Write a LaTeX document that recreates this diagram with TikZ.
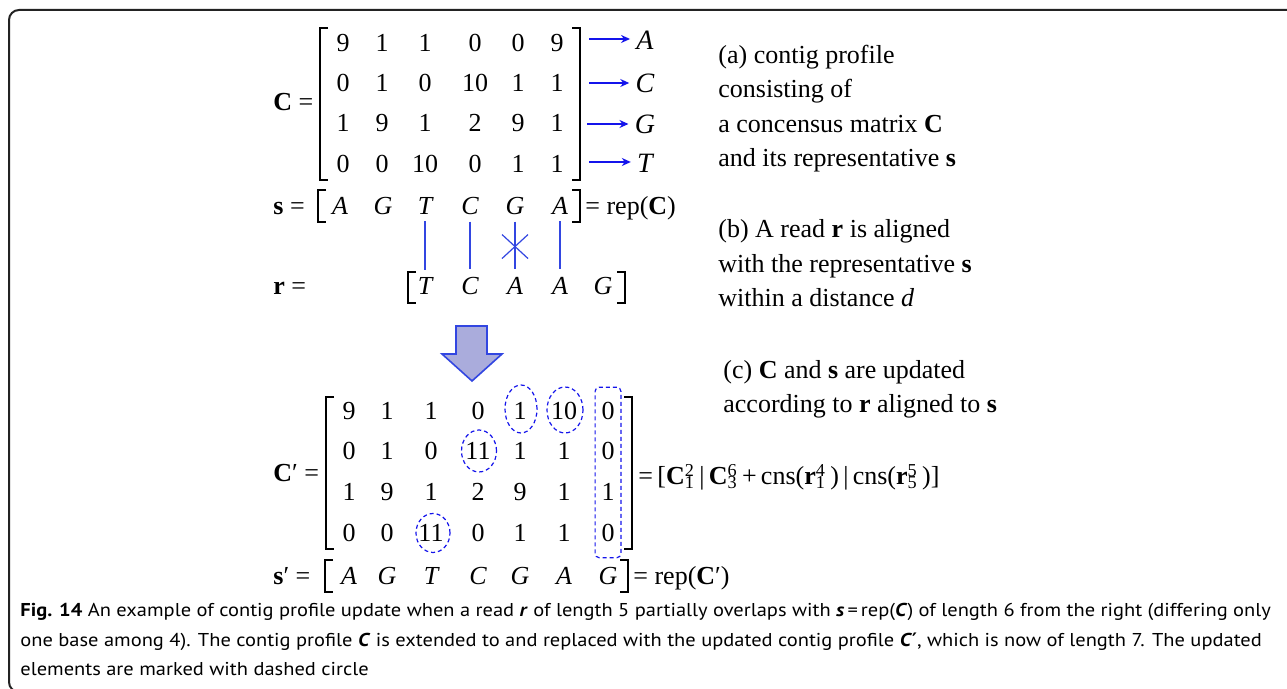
\documentclass[tikz,border=0pt]{standalone}
\usepackage{fontspec}
\setmainfont{Liberation Serif}
\newfontfamily\capfont[FakeStretch=1.1]{PT Sans}
\newfontfamily\primefont{DejaVu Sans}
\usetikzlibrary{arrows.meta,shapes.geometric,fit,calc}

\definecolor{pureblue}{RGB}{20,20,235}
\definecolor{lineblue}{RGB}{50,70,225}
\definecolor{flowfill}{RGB}{170,172,220}
\definecolor{framegray}{RGB}{35,35,35}

% stacked sub- and superscript after a symbol
\newcommand{\subsup}[2]{\makebox[0pt][l]{\textsuperscript{#2}}\textsubscript{#1}}

\begin{document}
\begin{tikzpicture}[
    x=0.5pt, y=-0.5pt,
    font=\fontsize{13}{17.25}\selectfont,
    >={Stealth[length=4.5pt,width=4pt]},
    cell/.style={inner sep=0pt, anchor=base},
    nuc/.style={inner sep=0pt, anchor=base, font=\fontsize{13}{17.25}\selectfont\itshape},
    lhs/.style={inner sep=0pt, anchor=base west},
    note/.style={inner sep=0pt, anchor=base west, align=left},
    brak/.style={line width=0.6pt},
    flow/.style={->, draw=pureblue, line width=0.8pt},
    tie/.style={draw=lineblue, line width=0.6pt, shorten <=3pt, shorten >=4pt},
    ring/.style={draw=pureblue, dash pattern=on 2pt off 1.5pt, line width=0.6pt,
        ellipse, inner sep=0pt},
    newcol/.style={draw=pureblue, dash pattern=on 2pt off 1.5pt, line width=0.6pt,
        rounded corners=2pt, inner xsep=3pt, inner ysep=7.5pt},
    bigflow/.style={draw=lineblue, fill=flowfill, line width=0.8pt, line join=miter}
]
\useasboundingbox (0,0) rectangle (1287,689);

% frame
\draw[framegray, line width=1pt, rounded corners=5pt] (1300,10) -- (9,10) -- (9,692) -- (1300,692);

% (a) consensus matrix C
\node[lhs] (lhsC) at (273,111) {\textbf{C} =};
\draw[brak] (328,28) -- (320,28) -- (320,180) -- (328,180);
\draw[brak] (572,28) -- (580,28) -- (580,180) -- (572,180);
\foreach \xx/\v [count=\c] in {343/9,382/1,425/1,475/0,518/0,557/9}
    \node[cell] (c1\c) at (\xx,52) {\v};
\foreach \xx/\v [count=\c] in {343/0,382/1,425/0,475/10,518/1,557/1}
    \node[cell] (c2\c) at (\xx,92) {\v};
\foreach \xx/\v [count=\c] in {343/1,382/9,425/1,475/2,518/9,557/1}
    \node[cell] (c3\c) at (\xx,132) {\v};
\foreach \xx/\v [count=\c] in {343/0,382/0,425/10,475/0,518/1,557/1}
    \node[cell] (c4\c) at (\xx,173) {\v};

% row labels
\node[nuc, anchor=center, inner xsep=3pt, font=\fontsize{14}{17}\selectfont\itshape] (lA) at (645,40) {A};
\node[nuc, anchor=center, inner xsep=3pt, font=\fontsize{14}{17}\selectfont\itshape] (lC) at (645,83) {C};
\node[nuc, anchor=center, inner xsep=3pt, font=\fontsize{14}{17}\selectfont\itshape] (lG) at (645,124) {G};
\node[nuc, anchor=center, inner xsep=3pt, font=\fontsize{14}{17}\selectfont\itshape] (lT) at (645,163) {T};
\coordinate (rowA) at (589,39);
\coordinate (rowC) at (589,83);
\coordinate (rowG) at (587,124);
\coordinate (rowT) at (589,162);
\draw[flow] (rowA) -- (lA.west |- rowA);
\draw[flow] (rowC) -- (lC.west |- rowC);
\draw[flow] (rowG) -- (lG.west |- rowG);
\draw[flow] (rowT) -- (lT.west |- rowT);

% representative s
\node[lhs] (lhsS) at (273,215) {\textbf{s} =};
\draw[brak] (326,190) -- (318,190) -- (318,222) -- (326,222);
\draw[brak] (572,190) -- (580,190) -- (580,222) -- (572,222);
\foreach \xx/\v [count=\c] in {340/A,383/G,425/T,470/C,515/G,560/A}
    \node[nuc] (s\c) at (\xx,215) {\v};
\node[lhs] (repC) at (585,215) {= rep(\textbf{C})};

% read r
\node[lhs] (lhsR) at (273,295) {\textbf{r} =};
\draw[brak] (416,272) -- (408,272) -- (408,303) -- (416,303);
\draw[brak] (617,272) -- (625,272) -- (625,303) -- (617,303);
\foreach \xx/\v [count=\c] in {425/T,470/C,515/A,560/A,603/G}
    \node[nuc] (r\c) at (\xx,295) {\v};

% alignment
\draw[tie] (s3.south) -- (r1.north);
\draw[tie] (s4.south) -- (r2.north);
\draw[tie] (s5.south) -- (r3.north);
\draw[tie] (s6.south) -- (r4.north);
\coordinate (miss) at ($(s5.south)!0.5!(r3.north)$);
\draw[draw=lineblue, line width=0.6pt] (miss) +(-13,-12) -- +(13,12);
\draw[draw=lineblue, line width=0.6pt] (miss) +(-13,12) -- +(13,-12);

% update arrow
\draw[bigflow] (456,326) -- (487,326) -- (487,354) -- (502,354) -- (472,381)
    -- (442,354) -- (456,354) -- cycle;

% (c) updated matrix C'
\node[lhs] (lhsCp) at (273,482) {\textbf{C}′ =};
\draw[brak] (334,397) -- (326,397) -- (326,549) -- (334,549);
\draw[brak] (624,397) -- (632,397) -- (632,549) -- (624,549);
\foreach \xx/\v [count=\c] in {349/9,387/1,431/1,478/0,520/1,564/10,608/0}
    \node[cell] (cp1\c) at (\xx,420) {\v};
\foreach \xx/\v [count=\c] in {349/0,387/1,431/0,478/11,520/1,564/1,608/0}
    \node[cell] (cp2\c) at (\xx,460) {\v};
\foreach \xx/\v [count=\c] in {349/1,387/9,431/1,478/2,520/9,564/1,608/1}
    \node[cell] (cp3\c) at (\xx,501) {\v};
\foreach \xx/\v [count=\c] in {349/0,387/0,431/11,478/0,520/1,564/1,608/0}
    \node[cell] (cp4\c) at (\xx,542) {\v};

% updated elements
\node[ring, minimum width=16pt, minimum height=24pt] (up15) at (521,409) {};
\node[ring, minimum width=18pt, minimum height=23pt] (up16) at (565,410) {};
\node[ring, minimum width=17.5pt, minimum height=21pt] (up24) at (479,451) {};
\node[ring, minimum width=17pt, minimum height=19.5pt] (up43) at (433,533) {};
\node[newcol, fit=(cp17)(cp47)] (upcol) {};

\node[lhs] (splitC) at (638,485) {=\,[\textbf{C}\subsup{1}{2}\,|\,\textbf{C}\subsup{3}{6}\,+\,cns(\textbf{r}\subsup{1}{4}\,)\,|\,cns(\textbf{r}\subsup{5}{5}\,)]};

% updated representative s'
\node[lhs] (lhsSp) at (273,585) {\textbf{s}′ =};
\draw[brak] (333,560) -- (325,560) -- (325,592) -- (333,592);
\draw[brak] (620,560) -- (628,560) -- (628,592) -- (620,592);
\foreach \xx/\v [count=\c] in {349/A,387/G,431/T,478/C,520/G,564/A,608/G}
    \node[nuc] (sp\c) at (\xx,585) {\v};
\node[lhs] (repCp) at (633,585) {= rep(\textbf{C}′)};

% explanations
\node[note] (noteA) at (718,167) {(a) contig profile\\consisting of\\a concensus matrix \textbf{C}\\and its representative \textbf{s}};
\node[note] (noteB) at (718,307) {(b) A read \textbf{r} is aligned\\with the representative \textbf{s}\\within a distance \textit{d}};
\node[note] (noteC) at (723,413) {(c) \textbf{C} and \textbf{s} are updated\\according to \textbf{r} aligned to \textbf{s}};

% caption
\node[note, font=\capfont\fontsize{9.3}{14.75}\selectfont] (caption) at (20,676) {%
\textbf{Fig. 14} An example of contig profile update when a read \textbf{\textit{r}} of length 5 partially overlaps with \textbf{\textit{s}}\,=\,rep(\textbf{\textit{C}}) of length 6 from the right (differing only\\
one base among 4). The contig profile \textbf{\textit{C}} is extended to and replaced with the updated contig profile \textbf{\textit{C}}{\primefont\bfseries ′}, which is now of length 7. The updated\\
elements are marked with dashed circle};
\end{tikzpicture}
\end{document}
